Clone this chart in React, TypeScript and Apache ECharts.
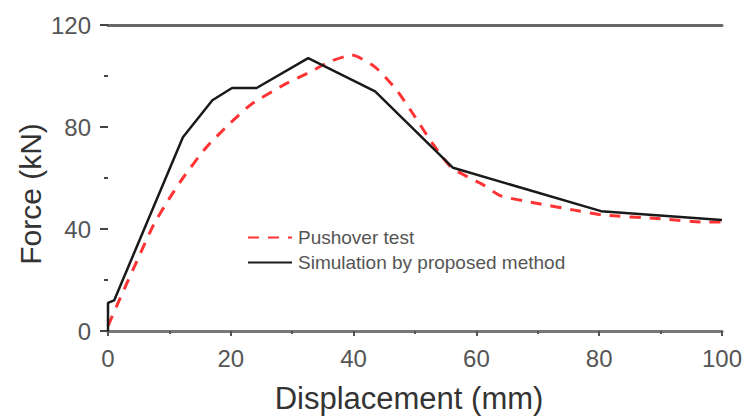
import React, { useEffect, useRef } from "react";
import * as echarts from "echarts";

const pushoverTest: [number, number][] = [
  [0, 2], [2, 13], [5, 29], [7.5, 42], [10, 52], [12.2, 60], [16, 72], [19.9, 81.5],
  [23.4, 89], [29, 97], [32.9, 101.5], [36, 105.5], [39.7, 108.2], [43.5, 103.5],
  [47, 94.5], [50, 84], [52.8, 73.7], [56, 64], [61, 57.5], [64, 53], [70, 50],
  [75.7, 47.5], [80.6, 45.5], [90, 44], [97.4, 42.7], [100, 42.7],
];

const simulation: [number, number][] = [
  [0, 0], [0, 11], [1, 12], [12.2, 76], [17, 90.5], [20.2, 95.3], [24.2, 95.3],
  [32.6, 107], [43.5, 94], [56.2, 64], [80.3, 47], [100, 43.5],
];

const xTicks = [0, 20, 40, 60, 80, 100];
const yTicks = [0, 40, 80, 120];

export default function App() {
  const ref = useRef<HTMLDivElement>(null);
  useEffect(() => {
    if (!ref.current) return;
    const chart = echarts.init(ref.current, null, { renderer: "svg" });
    const font = "'Liberation Sans', Arial, sans-serif";
    chart.setOption({
      animation: false,
      backgroundColor: "#ffffff",
      grid: { left: 108, right: 24, top: 25, bottom: 85 },
      legend: {
        left: 242,
        top: 223,
        orient: "vertical",
        itemGap: 6,
        itemWidth: 44,
        itemHeight: 14,
        itemStyle: { opacity: 0 },
        textStyle: { fontFamily: font, fontSize: 19, lineHeight: 19, color: "#555", padding: [0, 0, 0, 1] },
        data: ["Pushover test", "Simulation by proposed method"],
      },
      graphic: [
        {
          type: "text",
          x: 409,
          y: 398,
          style: {
            text: "Displacement (mm)",
            fontFamily: font,
            fontSize: 31,
            fill: "#333",
            align: "center",
            verticalAlign: "middle",
          },
        },
        {
          type: "text",
          x: 30,
          y: 194,
          rotation: Math.PI / 2,
          style: {
            text: "Force (kN)",
            fontFamily: font,
            fontSize: 30,
            fill: "#333",
            align: "center",
            verticalAlign: "middle",
          },
        },
      ],
      xAxis: [
        {
          type: "value",
          min: xTicks[0],
          max: xTicks[xTicks.length - 1],
          interval: 20,
          axisLine: { show: true, lineStyle: { color: "#777", width: 3 } },
          axisTick: { show: true, inside: false, length: 5, lineStyle: { color: "#555", width: 2 } },
          minorTick: { show: true, splitNumber: 2, length: 3, lineStyle: { color: "#555", width: 2 } },
          axisLabel: { fontFamily: font, fontSize: 24, color: "#555", margin: 15 },
          splitLine: { show: false },
        },
        {
          type: "value",
          position: "top",
          min: 0,
          max: 100,
          axisLine: { show: true, onZero: false, lineStyle: { color: "#666", width: 3 } },
          axisTick: { show: false },
          axisLabel: { show: false },
          splitLine: { show: false },
        },
      ],
      yAxis: {
        type: "value",
        min: yTicks[0],
        max: yTicks[yTicks.length - 1],
        interval: 40,
        axisLine: { show: false },
        axisTick: { show: true, inside: false, length: 8, lineStyle: { color: "#444", width: 2 } },
        minorTick: { show: true, splitNumber: 2, length: 4, lineStyle: { color: "#444", width: 2 } },
        axisLabel: { fontFamily: font, fontSize: 24, color: "#555", margin: 17 },
        splitLine: { show: false },
      },
      series: [
        {
          name: "Pushover test",
          type: "line",
          data: pushoverTest,
          smooth: 0.2,
          symbol: "none",
          lineStyle: { color: "#ff3333", width: 3, type: [11, 9] },
          itemStyle: { color: "#ff3333" },
          z: 3,
        },
        {
          name: "Simulation by proposed method",
          type: "line",
          data: simulation,
          symbol: "none",
          lineStyle: { color: "#1a1a1a", width: 2.5 },
          itemStyle: { color: "#1a1a1a" },
          z: 4,
        },
      ],
    });
    return () => chart.dispose();
  }, []);
  return <div ref={ref} style={{ width: 746, height: 416, position: "absolute", left: 0, top: 0 }} />;
}
